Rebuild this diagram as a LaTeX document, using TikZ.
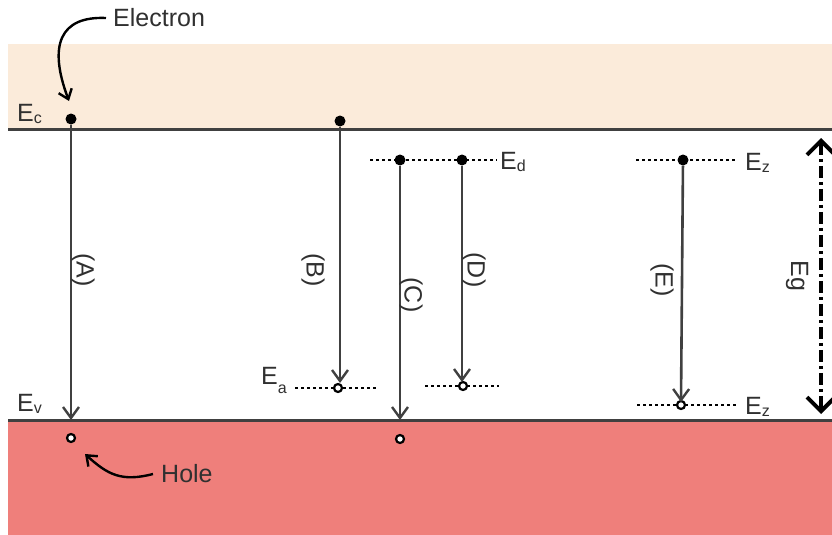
\documentclass[tikz,border=0pt]{standalone}
\usepackage{fontspec}
\setmainfont{Liberation Sans}
\usetikzlibrary{arrows.meta}
\definecolor{cband}{HTML}{FBEBDA}
\definecolor{vband}{HTML}{EF7F7B}
\definecolor{lvl}{HTML}{404040}
\definecolor{txt}{HTML}{303030}
\tikzset{
  bandline/.style={draw=lvl,line width=3pt},
  trans/.style={draw=lvl,line width=2.6pt,-{Straight Barb[length=11pt,width=16pt,line width=2.4pt]}},
  elec/.style={circle,fill=black,inner sep=0pt,minimum size=11pt},
  holec/.style={circle,draw=black,fill=white,line width=2.2pt,inner sep=0pt,minimum size=8pt},
  trap/.style={draw=black,line width=2.2pt,dash pattern=on 3pt off 3pt},
  lbl/.style={font=\fontsize{25}{27}\selectfont,inner sep=0pt,text=txt},
  rlbl/.style={lbl,rotate=-90},
  curv/.style={draw=black,line width=2.4pt,-{Straight Barb[length=9pt,width=14pt,line width=2.4pt]}}
}
\newcommand{\Esub}[1]{E\raisebox{-2pt}{\fontsize{16}{16}\selectfont #1}}
\begin{document}
\begin{tikzpicture}[x=1pt,y=-1pt]
\useasboundingbox (0,0) rectangle (832,535);
% bands
\fill[cband] (8,44) rectangle (832,129);
\fill[vband] (8,420) rectangle (832,535);
\draw[bandline] (8,129) -- (832,129);
\draw[bandline] (8,420) -- (832,420);
% labels of bands
\node[lbl,anchor=south west] (eclab) at (17,124) {\Esub{c}};
\node[lbl,anchor=south west] (evlab) at (17,414) {\Esub{v}};
% (A)
\node[elec] (a1) at (71,119) {};
\node[holec] (a2) at (71,438) {};
\coordinate (a3) at (71,420);
\draw[trans] (a1) -- (a3);
\node[rlbl] (la) at (83,270) {(A)};
% Electron
\node[lbl,anchor=west] (electron) at (113,18) {Electron};
\draw[curv] ([xshift=-7pt]electron.west) .. controls (60,16) and (48,45) .. (69,101);
% Hole
\node[lbl,anchor=west] (hole) at (161,474) {Hole};
\draw[curv] ([xshift=-8pt]hole.west) .. controls (122,482) and (108,475) .. (85,454);
% (B)
\node[elec] (b1) at (340,121) {};
\coordinate (ea1) at (295,388);
\coordinate (ea2) at (378,388);
\draw[trap] (ea1) -- (ea2);
\node[holec] (b2) at (338,388) {};
\draw[trans] (b1) -- (340,383);
\node[rlbl] (lb) at (313,270) {(B)};
\node[lbl,anchor=east] (ealab) at (287,380) {E\raisebox{-9pt}{\fontsize{16}{16}\selectfont a}};
% Ed level
\coordinate (ed1) at (370,160);
\coordinate (ed2) at (497,160);
\draw[trap] (ed1) -- (ed2);
\node[lbl,anchor=west] (edlab) at (500,162) {\Esub{d}};
% (C)
\node[elec] (c1) at (400,160) {};
\node[holec] (c2) at (400,439) {};
\coordinate (c3) at (400,420);
\draw[trans] (c1) -- (c3);
\node[rlbl] (lc) at (411,295) {(C)};
% (D)
\node[elec] (d1) at (462,160) {};
\coordinate (ed3) at (425,386);
\coordinate (ed4) at (499,386);
\draw[trap] (ed3) -- (ed4);
\node[holec] (d2) at (463,386) {};
\draw[trans] (d1) -- (462,382);
\node[rlbl] (ld) at (474,270) {(D)};
% (E)
\coordinate (ez1) at (636,160);
\coordinate (ez2) at (736,160);
\draw[trap] (ez1) -- (ez2);
\node[elec] (e1) at (683,160) {};
\node[lbl,anchor=west] (ezlab1) at (745,163) {\Esub{z}};
\coordinate (ez3) at (637,405);
\coordinate (ez4) at (736,405);
\draw[trap] (ez3) -- (ez4);
\node[holec] (e2) at (681,405) {};
\draw[trans] (e1) -- (681,402);
\node[lbl,anchor=west] (ezlab2) at (745,407) {\Esub{z}};
\node[rlbl] (le) at (662,280) {(E)};
% Eg
\coordinate (g1) at (821,138);
\coordinate (g2) at (821,414);
\draw[line width=4pt,dash pattern=on 12pt off 4pt on 3pt off 4pt,{Straight Barb[length=14pt,width=28pt,line width=4pt]}-{Straight Barb[length=14pt,width=28pt,line width=4pt]}] (g1) -- (g2);
\node[rlbl] (eg) at (797,276) {Eg};
\end{tikzpicture}
\end{document}
